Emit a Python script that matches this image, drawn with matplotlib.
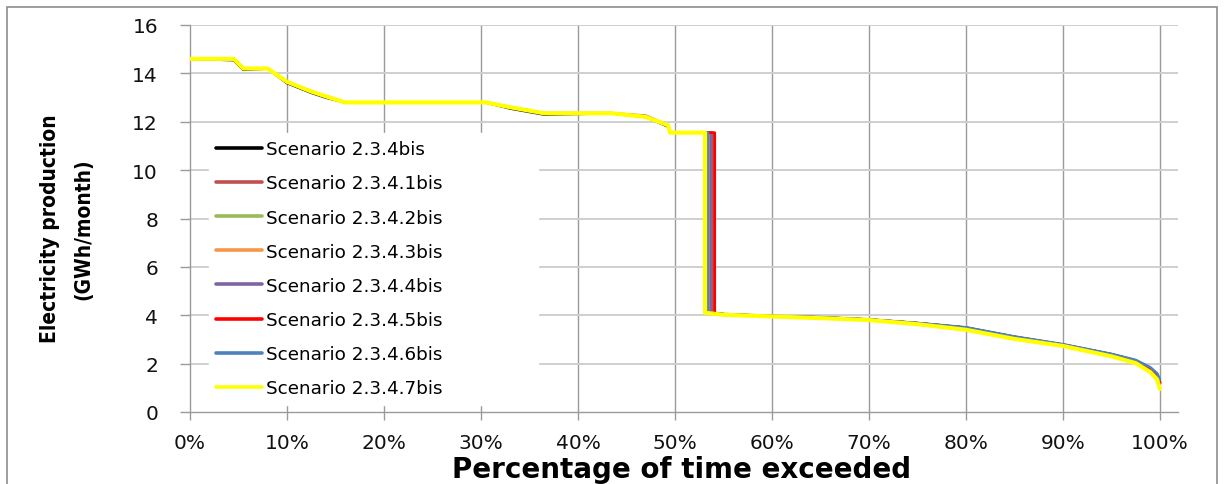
import matplotlib
matplotlib.use("Agg")
import matplotlib.pyplot as plt
from matplotlib.patches import Rectangle

# ---------------- data ----------------
SERIES = ["Scenario 2.3.4bis", "Scenario 2.3.4.1bis", "Scenario 2.3.4.2bis",
          "Scenario 2.3.4.3bis", "Scenario 2.3.4.4bis", "Scenario 2.3.4.5bis",
          "Scenario 2.3.4.6bis", "Scenario 2.3.4.7bis"]
COLORS = ["#000000", "#C0504D", "#9BBB59", "#F79646", "#8064A2", "#FF0000",
          "#4F81BD", "#FFFF00"]

# percentage of time exceeded (%) for the upper part of the curve
X_HEAD = [0, 4.5, 5.5, 8.0, 10.0, 12.5, 14.0, 16.0, 30.5, 33.0, 36.5, 43.5, 47.0, 49.3, 49.5]
# percentage of time exceeded (%) for the lower part of the curve
X_TAIL = [55, 60, 65, 70, 75, 80, 85, 90, 95, 97.5, 99, 99.7, 100]

Y_HEAD = [
    [14.6, 14.55, 14.15, 14.2, 13.6, 13.2, 13.0, 12.8, 12.8, 12.55, 12.3, 12.35, 12.2, 11.8, 11.55],
    [14.6, 14.6, 14.2, 14.2, 13.65, 13.25, 13.05, 12.8, 12.8, 12.6, 12.35, 12.35, 12.25, 11.85, 11.55],
    [14.6, 14.6, 14.2, 14.2, 13.65, 13.25, 13.05, 12.8, 12.8, 12.6, 12.35, 12.35, 12.2, 11.85, 11.55],
    [14.6, 14.6, 14.2, 14.2, 13.65, 13.25, 13.05, 12.8, 12.8, 12.6, 12.35, 12.35, 12.2, 11.85, 11.55],
    [14.6, 14.6, 14.2, 14.2, 13.65, 13.25, 13.05, 12.8, 12.8, 12.6, 12.35, 12.35, 12.2, 11.85, 11.55],
    [14.6, 14.6, 14.2, 14.2, 13.65, 13.25, 13.05, 12.8, 12.8, 12.6, 12.35, 12.35, 12.2, 11.85, 11.55],
    [14.6, 14.6, 14.2, 14.2, 13.65, 13.25, 13.05, 12.8, 12.8, 12.6, 12.35, 12.35, 12.2, 11.85, 11.55],
    [14.6, 14.6, 14.2, 14.2, 13.65, 13.25, 13.05, 12.8, 12.8, 12.6, 12.35, 12.35, 12.2, 11.85, 11.55],
]
PLATEAU = [11.55, 11.55, 11.55, 11.55, 11.55, 11.55, 11.55, 11.55]
DROP_X = [53.5, 53.9, 53.4, 53.6, 53.7, 54.1, 53.4, 53.1]
DROP_BOTTOM = [4.1, 4.1, 4.1, 4.1, 4.1, 4.1, 4.1, 4.1]
Y_TAIL = [
    [4.04, 3.96, 3.91, 3.82, 3.67, 3.48, 3.10, 2.78, 2.38, 2.12, 1.80, 1.55, 1.20],
    [4.04, 3.96, 3.91, 3.82, 3.67, 3.48, 3.10, 2.78, 2.38, 2.12, 1.80, 1.55, 1.20],
    [4.04, 3.96, 3.91, 3.82, 3.67, 3.48, 3.10, 2.78, 2.38, 2.12, 1.80, 1.55, 1.20],
    [4.04, 3.96, 3.91, 3.82, 3.67, 3.48, 3.10, 2.78, 2.38, 2.12, 1.80, 1.55, 1.20],
    [4.04, 3.96, 3.91, 3.82, 3.67, 3.49, 3.11, 2.79, 2.39, 2.13, 1.82, 1.57, 1.25],
    [4.04, 3.96, 3.91, 3.82, 3.67, 3.48, 3.10, 2.78, 2.38, 2.12, 1.80, 1.55, 1.20],
    [4.05, 3.97, 3.92, 3.83, 3.68, 3.50, 3.12, 2.80, 2.40, 2.15, 1.85, 1.60, 1.35],
    [4.02, 3.95, 3.88, 3.80, 3.63, 3.40, 3.02, 2.73, 2.30, 2.02, 1.65, 1.35, 0.95],
]
X_TICKS = [0, 10, 20, 30, 40, 50, 60, 70, 80, 90, 100]
X_TICK_LABELS = ["0%", "10%", "20%", "30%", "40%", "50%", "60%", "70%", "80%", "90%", "100%"]
Y_TICKS = [0, 2, 4, 6, 8, 10, 12, 14, 16]

# ---------------- figure ----------------
W, H = 1224, 485
fig = plt.figure(figsize=(W / 100, H / 100), dpi=100)
fig.patch.set_facecolor("white")
ax = fig.add_axes([190 / W, 1 - 413 / H, (1178 - 190) / W, (413 - 26) / H])

for i, name in enumerate(SERIES):
    xs = X_HEAD + [DROP_X[i], DROP_X[i]] + X_TAIL
    ys = Y_HEAD[i] + [PLATEAU[i], DROP_BOTTOM[i]] + Y_TAIL[i]
    lw = 3.0 if COLORS[i] == "#FFFF00" else 1.9
    ax.plot(xs, ys, color=COLORS[i], lw=lw, label=name, solid_joinstyle="round",
            solid_capstyle="round", zorder=3 + i)

ax.set_xlim(0, 101.86)
ax.set_ylim(0, 16)
ax.set_xticks(X_TICKS)
ax.set_xticklabels(X_TICK_LABELS)
ax.set_yticks(Y_TICKS)

for v in X_TICKS[1:]:
    ax.axvline(v, color="#9a9a9a", lw=1.0, zorder=1)
for v in Y_TICKS[1:]:
    ax.axhline(v, color="#cfcfcf", lw=1.4, zorder=1)

for s in ["top", "right"]:
    ax.spines[s].set_visible(False)
for s in ["left", "bottom"]:
    ax.spines[s].set_color("#9a9a9a")
    ax.spines[s].set_linewidth(1.0)

ax.tick_params(axis="y", direction="out", length=7, width=1, color="#9a9a9a",
               pad=16, labelsize=14.5, labelcolor="#111111")
ax.tick_params(axis="x", direction="out", length=6, width=1, color="#9a9a9a",
               pad=9, labelsize=14.5, labelcolor="#111111")

fig.text(67 / W, 1 - 229 / H, "Electricity production\n(GWh/month)", rotation=90,
         ha="center", va="center", fontsize=15, fontweight="bold",
         fontstretch="condensed", family="DejaVu Sans", linespacing=1.85)
fig.text(682 / W, 1 - 478 / H, "Percentage of time exceeded", ha="center",
         va="baseline", fontsize=20, fontweight="bold", family="DejaVu Sans")

leg = ax.legend(loc="upper left",
                bbox_to_anchor=(209 / W, 1 - 405 / H, (538 - 209) / W, (405 - 134) / H),
                bbox_transform=fig.transFigure, mode="expand", frameon=True,
                fontsize=13.2, handlelength=2.5, handletextpad=0.2,
                labelspacing=0.88, borderpad=0.4, borderaxespad=0)
leg.get_frame().set_edgecolor("white")
leg.get_frame().set_facecolor("white")
leg.get_frame().set_alpha(1.0)
leg.get_frame().set_boxstyle("square", pad=0)
for line in leg.get_lines():
    line.set_linewidth(2.6)
leg.set_zorder(20)

fig.patches.append(Rectangle((7 / W, -0.1), (1217 - 7) / W, 1.1 - 8 / H,
                             transform=fig.transFigure, fill=False,
                             edgecolor="#8c8c8c", lw=1.2))

fig.savefig("out.png", dpi=100, facecolor="white")
